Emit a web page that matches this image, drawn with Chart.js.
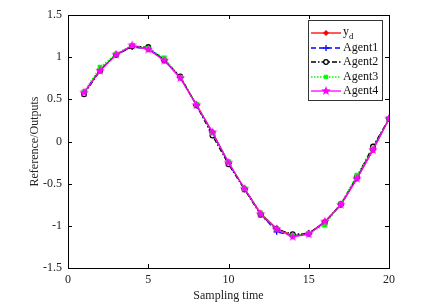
<!DOCTYPE html>
<html>
<head>
<meta charset="utf-8">
<script src="https://cdn.jsdelivr.net/npm/chart.js@4.4.1/dist/chart.umd.min.js"></script>
<style>
	html, body { margin: 0; padding: 0; background: #fff; }
	#wrap { width: 434px; height: 308px; }
</style>
</head>
<body>
<div id="wrap"><canvas id="outChart" width="434" height="308"></canvas></div>
<script>
// 데이터
const steps = [1, 2, 3, 4, 5, 6, 7, 8, 9, 10, 11, 12, 13, 14, 15, 16, 17, 18, 19, 20];
const yd     = [0.58, 0.85, 1.03, 1.13, 1.10, 0.97, 0.76, 0.44, 0.11, -0.25, -0.56, -0.85, -1.03, -1.12, -1.09, -0.95, -0.75, -0.44, -0.10, 0.27];
const agent1 = [0.58, 0.85, 1.03, 1.12, 1.10, 0.97, 0.76, 0.43, 0.10, -0.26, -0.56, -0.86, -1.07, -1.12, -1.09, -0.96, -0.75, -0.43, -0.08, 0.27];
const agent2 = [0.56, 0.84, 1.03, 1.13, 1.12, 0.96, 0.77, 0.43, 0.07, -0.27, -0.57, -0.87, -1.04, -1.10, -1.09, -0.96, -0.74, -0.42, -0.06, 0.27];
const agent3 = [0.59, 0.88, 1.04, 1.14, 1.10, 0.99, 0.76, 0.44, 0.10, -0.24, -0.56, -0.85, -1.04, -1.12, -1.09, -0.99, -0.74, -0.40, -0.09, 0.27];
const agent4 = [0.58, 0.84, 1.03, 1.14, 1.09, 0.96, 0.75, 0.43, 0.11, -0.25, -0.56, -0.86, -1.04, -1.13, -1.10, -0.95, -0.75, -0.44, -0.10, 0.27];
const seriesNames = ['y_d', 'Agent1', 'Agent2', 'Agent3', 'Agent4'];
const xTicks = [0, 5, 10, 15, 20];
const yTicks = [-1.5, -1, -0.5, 0, 0.5, 1, 1.5];

const FONT = '"Liberation Serif", "Times New Roman", serif';

// 오각별 마커
function makeStar(color, r) {
	const c = document.createElement('canvas');
	const s = r * 2 + 2;
	c.width = s; c.height = s;
	const g = c.getContext('2d');
	g.fillStyle = color;
	g.beginPath();
	for (let i = 0; i < 10; i++) {
		const rr = i % 2 === 0 ? r : r * 0.42;
		const a = -Math.PI / 2 + i * Math.PI / 5;
		const px = s / 2 + rr * Math.cos(a), py = s / 2 + rr * Math.sin(a);
		if (i === 0) g.moveTo(px, py); else g.lineTo(px, py);
	}
	g.closePath();
	g.fill();
	return c;
}
const starImg = makeStar('#ff00ff', 5);

const toXY = (arr) => arr.map((v, i) => ({ x: steps[i], y: v }));

const datasets = [
	{ label: seriesNames[0], data: toXY(yd), borderColor: '#ff0000', backgroundColor: '#ff0000', borderWidth: 1.3,
	  pointStyle: 'rectRot', pointRadius: 2.5, order: 5 },
	{ label: seriesNames[1], data: toXY(agent1), borderColor: '#0000ff', backgroundColor: '#0000ff', borderWidth: 1.3,
	  borderDash: [5, 3], pointStyle: 'cross', pointRadius: 3, pointBorderWidth: 1.3, order: 4 },
	{ label: seriesNames[2], data: toXY(agent2), borderColor: '#000000', backgroundColor: '#ffffff', borderWidth: 1.3,
	  borderDash: [5, 2, 1.5, 2], pointStyle: 'circle', pointRadius: 2.3, pointBorderWidth: 1.3, order: 3 },
	{ label: seriesNames[3], data: toXY(agent3), borderColor: '#00ff00', backgroundColor: '#00ff00', borderWidth: 1.3,
	  borderDash: [1.5, 1.5], pointStyle: 'rect', pointRadius: 2.5, order: 2 },
	{ label: seriesNames[4], data: toXY(agent4), borderColor: '#ff00ff', backgroundColor: '#ff00ff', borderWidth: 1.3,
	  pointStyle: starImg, pointRadius: 4, order: 1 },
];

// 박스 + 안쪽 눈금 + 축 제목 + 범례
const boxPlugin = {
	id: 'boxPlugin',
	afterDraw(chart) {
		const { ctx, chartArea: a, scales } = chart;
		ctx.save();
		ctx.strokeStyle = '#000';
		ctx.lineWidth = 1;
		ctx.strokeRect(Math.round(a.left) + 0.5, Math.round(a.top) + 0.5, Math.round(a.right - a.left), Math.round(a.bottom - a.top));
		const tl = 4;
		ctx.beginPath();
		xTicks.forEach((t) => {
			const px = Math.round(scales.x.getPixelForValue(t)) + 0.5;
			ctx.moveTo(px, a.bottom); ctx.lineTo(px, a.bottom - tl);
			ctx.moveTo(px, a.top); ctx.lineTo(px, a.top + tl);
		});
		yTicks.forEach((t) => {
			const py = Math.round(scales.y.getPixelForValue(t)) + 0.5;
			ctx.moveTo(a.left, py); ctx.lineTo(a.left + tl, py);
			ctx.moveTo(a.right, py); ctx.lineTo(a.right - tl, py);
		});
		ctx.stroke();

		// 축 제목
		ctx.fillStyle = '#222';
		ctx.font = '12px ' + FONT;
		ctx.textAlign = 'center';
		ctx.textBaseline = 'middle';
		ctx.fillText('Sampling time', (a.left + a.right) / 2, 296);
		ctx.translate(35, (a.top + a.bottom) / 2);
		ctx.rotate(-Math.PI / 2);
		ctx.fillText('Reference/Outputs', 0, 0);
		ctx.restore();

		// 범례
		ctx.save();
		const lx = 308.5, ly = 20.5, lw = 74, lh = 80;
		ctx.fillStyle = '#fff';
		ctx.fillRect(lx, ly, lw, lh);
		ctx.strokeStyle = '#333';
		ctx.lineWidth = 1;
		ctx.strokeRect(lx, ly, lw, lh);
		const rowY = [33, 48, 62, 77, 91];
		chart.data.datasets.forEach((ds, i) => {
			const y = rowY[i];
			ctx.strokeStyle = ds.borderColor;
			ctx.lineWidth = ds.borderWidth;
			ctx.setLineDash(ds.borderDash || []);
			ctx.beginPath();
			ctx.moveTo(311, y); ctx.lineTo(341, y);
			ctx.stroke();
			ctx.setLineDash([]);
			ctx.strokeStyle = ds.borderColor;
			ctx.fillStyle = ds.backgroundColor;
			ctx.lineWidth = ds.pointBorderWidth || 1;
			Chart.helpers.drawPoint(ctx, {
				pointStyle: ds.pointStyle, radius: ds.pointRadius, rotation: 0,
				borderWidth: ds.pointBorderWidth || 1
			}, 326, y);
			ctx.fillStyle = '#111';
			ctx.font = '12px ' + FONT;
			ctx.textAlign = 'left';
			ctx.textBaseline = 'middle';
			if (ds.label === 'y_d') {
				ctx.fillText('y', 343, y - 1);
				ctx.font = '9px ' + FONT;
				ctx.fillText('d', 349, y + 4);
			} else {
				ctx.fillText(ds.label, 343, y);
			}
		});
		ctx.restore();
	}
};

const ctx = document.getElementById('outChart');
new Chart(ctx, {
	type: 'line',
	data: { datasets: datasets },
	plugins: [boxPlugin],
	options: {
		responsive: false,
		animation: false,
		devicePixelRatio: 1,
		layout: { padding: { left: 0, right: 45, top: 15, bottom: 0 } },
		plugins: { legend: { display: false }, tooltip: { enabled: false } },
		scales: {
			x: {
				type: 'linear', min: 0, max: 20,
				afterFit: (s) => { s.height = 40; },
				afterBuildTicks: (s) => { s.ticks = xTicks.map((v) => ({ value: v })); },
				grid: { display: false, drawTicks: false },
				border: { display: false },
				ticks: { color: '#222', font: { family: FONT, size: 12 }, padding: 5, maxRotation: 0,
					callback: (v) => String(v) }
			},
			y: {
				min: -1.5, max: 1.5,
				afterFit: (s) => { s.width = 68; },
				afterBuildTicks: (s) => { s.ticks = yTicks.map((v) => ({ value: v })); },
				grid: { display: false, drawTicks: false },
				border: { display: false },
				ticks: { color: '#222', font: { family: FONT, size: 12 }, padding: 6,
					callback: (v) => String(v) }
			}
		}
	}
});
</script>
</body>
</html>
